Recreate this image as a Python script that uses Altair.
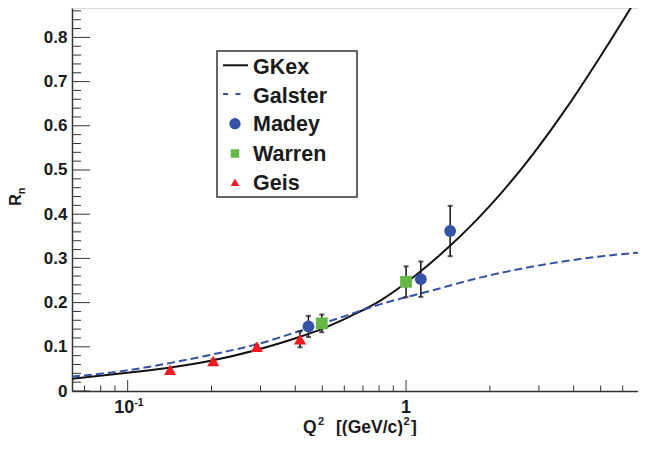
import altair as alt
import pandas as pd

# ---------------- data ----------------
gkex_q2 = [0.0631, 0.1, 0.1444, 0.2026, 0.2916, 0.416, 0.4993, 0.6293, 0.806, 1.092, 1.439, 1.844, 2.176, 2.859, 3.787, 4.976, 6.646]
gkex_r = [0.0276, 0.0412, 0.0536, 0.0694, 0.0932, 0.1226, 0.1407, 0.169, 0.2041, 0.2636, 0.3285, 0.395, 0.4448, 0.536, 0.6421, 0.7557, 0.8824]

galster_q2 = [0.0631, 0.1, 0.1444, 0.2026, 0.2916, 0.416, 0.6293, 0.806, 1.22, 1.844, 2.568, 3.574, 4.976, 6.927]
galster_r = [0.0326, 0.0468, 0.0642, 0.083, 0.1058, 0.136, 0.1735, 0.196, 0.2262, 0.2565, 0.2762, 0.2919, 0.3044, 0.3134]

madey_q2 = [0.446, 1.13, 1.44]
madey_r = [0.146, 0.253, 0.362]
madey_err = [0.024, 0.040, 0.057]

warren_q2 = [0.498, 1.0]
warren_r = [0.153, 0.247]
warren_err = [0.020, 0.035]

geis_q2 = [0.142, 0.203, 0.291, 0.416]
geis_r = [0.048, 0.068, 0.100, 0.117]
geis_err = [0.004, 0.004, 0.005, 0.018]

legend_names = ["GKex", "Galster", "Madey", "Warren", "Geis"]

y_major = [0, 0.1, 0.2, 0.3, 0.4, 0.5, 0.6, 0.7, 0.8]
y_minor = [0.02, 0.04, 0.06, 0.08, 0.12, 0.14, 0.16, 0.18, 0.22, 0.24, 0.26, 0.28,
           0.32, 0.34, 0.36, 0.38, 0.42, 0.44, 0.46, 0.48, 0.52, 0.54, 0.56, 0.58,
           0.62, 0.64, 0.66, 0.68, 0.72, 0.74, 0.76, 0.78, 0.82, 0.84, 0.86]
x_major = [0.1, 1]
x_minor = [0.07, 0.08, 0.09, 0.2, 0.3, 0.4, 0.5, 0.6, 0.7, 0.8, 0.9, 2, 3, 4, 5, 6]

# ---------------- styling ----------------
FONT = "Liberation Sans, Arial, Helvetica, sans-serif"
TXT = "#1a1a1a"
FRAME = "#333333"
BLUE = "#3553a4"
GREEN = "#64b946"
RED = "#ed1c24"
W, H = 566, 383

xs = alt.Scale(type="log", domain=[0.0631, 6.81], nice=False)
ys = alt.Scale(domain=[0, 0.8665], nice=False, zero=False)
x_axis = alt.Axis(labels=False, ticks=False, grid=False, title=None,
                  domainColor=FRAME, domainWidth=1.5)
y_axis = alt.Axis(values=y_major, ticks=False, grid=False, title=None,
                  labelExpr="datum.value == 0 ? '0' : format(datum.value, '.1f')",
                  labelFont=FONT, labelFontSize=17, labelFontWeight="bold",
                  labelColor=TXT, labelPadding=5,
                  domainColor=FRAME, domainWidth=1.5)


def X(f):
    return alt.X(f, type="quantitative", scale=xs, axis=x_axis)


def Y(f):
    return alt.Y(f, type="quantitative", scale=ys, axis=y_axis)


gk_df = pd.DataFrame({"q2": gkex_q2, "r": gkex_r})
ga_df = pd.DataFrame({"q2": galster_q2, "r": galster_r})


def pts(q, r, e):
    df = pd.DataFrame({"q2": q, "r": r, "e": e})
    df["lo"] = df["r"] - df["e"]
    df["hi"] = df["r"] + df["e"]
    return df


md = pts(madey_q2, madey_r, madey_err)
wr = pts(warren_q2, warren_r, warren_err)
gs = pts(geis_q2, geis_r, geis_err)

layers = []

gk_line = alt.Chart(gk_df).mark_line(color="#111111", strokeWidth=2, interpolate="monotone", clip=True).encode(
    x=X("q2"), y=Y("r"))
ga_line = alt.Chart(ga_df).mark_line(color=BLUE, strokeWidth=2, strokeDash=[8, 4], interpolate="monotone", clip=True).encode(
    x=X("q2"), y=Y("r"))
layers += [gk_line, ga_line]

# error bars
for df in (md, wr, gs):
    layers.append(alt.Chart(df).mark_rule(color="#111111", strokeWidth=1.5).encode(
        x=X("q2"), y=Y("lo"), y2="hi"))
    layers.append(alt.Chart(df).mark_tick(orient="horizontal", color="#111111", size=5, thickness=2).encode(
        x=X("q2"), y=Y("lo")))
    layers.append(alt.Chart(df).mark_tick(orient="horizontal", color="#111111", size=5, thickness=2).encode(
        x=X("q2"), y=Y("hi")))

# markers
layers.append(alt.Chart(md).mark_point(shape="circle", filled=True, color=BLUE, size=140, opacity=1).encode(
    x=X("q2"), y=Y("r")))
layers.append(alt.Chart(wr).mark_point(shape="square", filled=True, color=GREEN, size=140, opacity=1).encode(
    x=X("q2"), y=Y("r")))
layers.append(alt.Chart(gs).mark_point(shape="triangle-up", filled=True, color=RED, size=150, opacity=1).encode(
    x=X("q2"), y=Y("r")))

# inward ticks
layers.append(alt.Chart(pd.DataFrame({"v": y_major})).mark_rule(color=FRAME, strokeWidth=1).encode(
    y=Y("v"), x=alt.value(0), x2=alt.value(18)))
layers.append(alt.Chart(pd.DataFrame({"v": y_minor})).mark_rule(color=FRAME, strokeWidth=1).encode(
    y=Y("v"), x=alt.value(0), x2=alt.value(9)))
layers.append(alt.Chart(pd.DataFrame({"v": x_major})).mark_rule(color=FRAME, strokeWidth=1).encode(
    x=X("v"), y=alt.value(H), y2=alt.value(H - 11)))
layers.append(alt.Chart(pd.DataFrame({"v": x_minor})).mark_rule(color=FRAME, strokeWidth=1).encode(
    x=X("v"), y=alt.value(H), y2=alt.value(H - 5.5)))

# x tick labels
lab_df = pd.DataFrame({"v": [0.1], "t": ["10"]})
layers.append(alt.Chart(lab_df).mark_text(font=FONT, fontSize=18, fontWeight="bold", color=TXT,
                                          align="center", baseline="alphabetic", dx=-3.5).encode(
    x=X("v"), y=alt.value(404.5), text="t:N"))
sup_df = pd.DataFrame({"v": [0.1], "t": ["-1"]})
layers.append(alt.Chart(sup_df).mark_text(font=FONT, fontSize=10.5, fontWeight="bold", color=TXT,
                                          align="left", baseline="alphabetic", dx=6.5).encode(
    x=X("v"), y=alt.value(397.5), text="t:N"))
one_df = pd.DataFrame({"v": [1], "t": ["1"]})
layers.append(alt.Chart(one_df).mark_text(font=FONT, fontSize=18, fontWeight="bold", color=TXT,
                                          align="center", baseline="alphabetic").encode(
    x=X("v"), y=alt.value(404.5), text="t:N"))

# x axis title, with superscripts as separate pieces
title_pieces = [("Q", 231, 17.5, 0), ("2", 246, 11, -7.5), ("[(GeV/c)", 264, 17.5, 0),
                ("2", 331.5, 11, -7.5), ("]", 339, 17.5, 0)]
for t, px, fs, off in title_pieces:
    layers.append(alt.Chart().mark_text(text=t, font=FONT, fontSize=fs, fontWeight="bold", color=TXT,
                                        align="left", baseline="alphabetic").encode(
        x=alt.value(px), y=alt.value(424.5 + off)))

# y axis title
layers.append(alt.Chart().mark_text(text="R", font=FONT, fontSize=16, fontWeight="bold", color=TXT,
                                    align="center", baseline="alphabetic", angle=270).encode(
    x=alt.value(-51), y=alt.value(192)))
layers.append(alt.Chart().mark_text(text="n", font=FONT, fontSize=11, fontWeight="bold", color=TXT,
                                    align="center", baseline="alphabetic", angle=270).encode(
    x=alt.value(-47.5), y=alt.value(183)))

# legend
layers.append(alt.Chart().mark_rect(fill="white", stroke=FRAME, strokeWidth=1.5).encode(
    x=alt.value(145), x2=alt.value(285), y=alt.value(43), y2=alt.value(189)))
rows = [58.3, 87.0, 115.7, 145.5, 174.2]
for name, ry in zip(legend_names, rows):
    layers.append(alt.Chart().mark_text(text=name, font=FONT, fontSize=21.5, fontWeight="bold", color=TXT,
                                        align="left", baseline="alphabetic").encode(
        x=alt.value(181), y=alt.value(ry + 7.7)))
layers.append(alt.Chart().mark_rule(color="#111111", strokeWidth=2).encode(
    x=alt.value(151), x2=alt.value(176), y=alt.value(rows[0] - 1)))
layers.append(alt.Chart().mark_rule(color=BLUE, strokeWidth=2, strokeDash=[5, 7.5]).encode(
    x=alt.value(151), x2=alt.value(176), y=alt.value(rows[1] - 1)))
layers.append(alt.Chart().mark_point(shape="circle", filled=True, color=BLUE, size=128, opacity=1).encode(
    x=alt.value(163), y=alt.value(rows[2])))
layers.append(alt.Chart().mark_point(shape="square", filled=True, color=GREEN, size=72, opacity=1).encode(
    x=alt.value(163), y=alt.value(rows[3])))
layers.append(alt.Chart().mark_point(shape="triangle-up", filled=True, color=RED, size=75, opacity=1).encode(
    x=alt.value(163), y=alt.value(rows[4])))

chart = alt.layer(*layers).properties(
    width=W, height=H,
    autosize=alt.AutoSizeParams(type="none"),
    padding={"left": 64, "top": 0, "right": 0, "bottom": 45},
).configure_view(stroke=FRAME, strokeWidth=1.5).configure(background="white")

chart.save("out.html", embed_options={"renderer": "svg", "actions": False})
